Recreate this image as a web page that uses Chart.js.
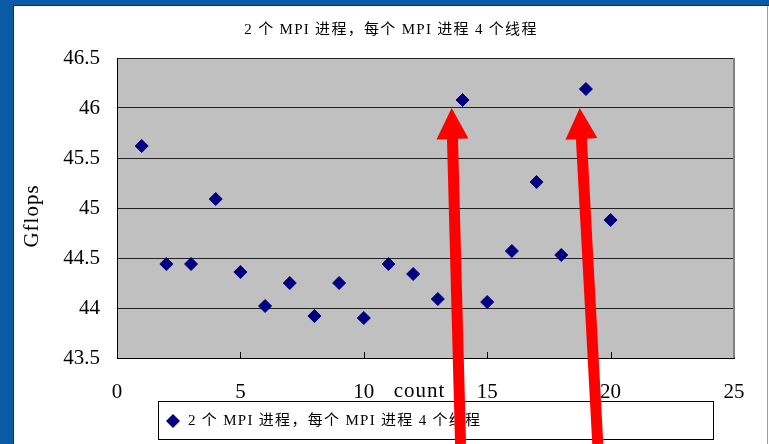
<!DOCTYPE html>
<html>
<head>
<meta charset="utf-8">
<script src="https://cdn.jsdelivr.net/npm/chart.js@4/dist/chart.umd.min.js"></script>
<style>
  html, body { margin: 0; padding: 0; background: #fff; overflow: hidden; }
  #wrap { width: 769px; height: 444px; position: relative; }
  canvas { display: block; }
</style>
</head>
<body>
<div id="wrap"><canvas id="c" width="769" height="444"></canvas></div>
<script>
// Benchmark runs and measured throughput
const runs = [1, 2, 3, 4, 5, 6, 7, 8, 9, 10, 11, 12, 13, 14, 15, 16, 17, 18, 19, 20];
const gflops = [45.62, 44.44, 44.44, 45.09, 44.36, 44.02, 44.25, 43.92, 44.25, 43.90,
                44.44, 44.34, 44.09, 46.08, 44.06, 44.57, 45.26, 44.53, 46.19, 44.88];
const xTicks = [0, 5, 10, 15, 20, 25];
const yTicks = [43.5, 44, 44.5, 45, 45.5, 46, 46.5];
const seriesName = '2 个 MPI 进程，每个 MPI 进程 4 个线程';
const chartTitle = '2 个 MPI 进程，每个 MPI 进程 4 个线程';
const xTitle = 'count';
const yTitle = 'Gflops';
// Red callout arrows for runs 14 and 19: [tailX, tailY, tipX, tipY] in axis units
const callouts = [[13.92, 42.64, 13.56, 46.0], [19.48, 42.64, 18.75, 46.0]];

const serif = "'Liberation Serif', 'Noto Sans CJK SC', serif";
const cjk = "'Liberation Serif', 'Noto Sans CJK SC', sans-serif";
const navy = '#000080';

function drawDiamond(ctx, x, y, r) {
  ctx.beginPath();
  ctx.moveTo(x, y - r); ctx.lineTo(x + r, y); ctx.lineTo(x, y + r); ctx.lineTo(x - r, y);
  ctx.closePath();
  ctx.fillStyle = navy; ctx.fill();
}

function drawArrow(ctx, x0, y0, x1, y1) {
  const dx = x1 - x0, dy = y1 - y0, len = Math.hypot(dx, dy);
  const ux = dx / len, uy = dy / len, px = -uy, py = ux;
  const shaft = 5.5, head = 16, headLen = 31;
  const bx = x1 - ux * headLen, by = y1 - uy * headLen;
  ctx.beginPath();
  ctx.moveTo(x0 + px * shaft, y0 + py * shaft);
  ctx.lineTo(bx + px * shaft, by + py * shaft);
  ctx.lineTo(bx + px * head, by + py * head);
  ctx.lineTo(x1, y1);
  ctx.lineTo(bx - px * head, by - py * head);
  ctx.lineTo(bx - px * shaft, by - py * shaft);
  ctx.lineTo(x0 - px * shaft, y0 - py * shaft);
  ctx.closePath();
  ctx.fillStyle = '#ff0000';
  ctx.fill();
}

const decor = {
  id: 'decor',
  beforeDraw(chart) {
    const { ctx, chartArea: a, width, height } = chart;
    ctx.save();
    // window frame
    ctx.fillStyle = '#0b5aa6';
    ctx.fillRect(0, 0, width, height);
    ctx.fillStyle = '#ffffff';
    ctx.fillRect(14, 6, width - 14, height - 6);
    ctx.fillStyle = '#0a2a4e';
    ctx.fillRect(13, 5, 1, height - 5);
    ctx.fillRect(13, 5, width - 13, 1);
    ctx.fillStyle = '#a0a0a0';
    ctx.fillRect(767, 6, 1, height - 6);
    // plot background
    ctx.fillStyle = '#c0c0c0';
    ctx.fillRect(a.left, a.top, a.right - a.left, a.bottom - a.top);
    ctx.restore();
  },
  beforeDatasetsDraw(chart) {
    const { ctx, chartArea: a, scales } = chart;
    ctx.save();
    // right edge of the plot
    ctx.fillStyle = '#808080';
    ctx.fillRect(a.right - 1, a.top, 2, a.bottom - a.top);
    // inward tick marks on the x axis
    ctx.strokeStyle = '#000';
    ctx.lineWidth = 1;
    xTicks.slice(1, -1).forEach(v => {
      const x = Math.round(scales.x.getPixelForValue(v)) + 0.5;
      ctx.beginPath(); ctx.moveTo(x, a.bottom); ctx.lineTo(x, a.bottom - 6); ctx.stroke();
    });
    ctx.restore();
  },
  afterDraw(chart) {
    const { ctx, chartArea: a, scales } = chart;
    ctx.save();
    // chart title
    ctx.fillStyle = '#000';
    ctx.font = '15px ' + cjk;
    ctx.letterSpacing = '1.3px';
    ctx.textAlign = 'center';
    ctx.textBaseline = 'middle';
    ctx.fillText(chartTitle, 391, 30);
    // x axis title, on the tick label line
    ctx.letterSpacing = '1px';
    ctx.font = '21px ' + serif;
    ctx.fillText(xTitle, (a.left + a.right) / 2 - 6, 391);
    // y axis title
    ctx.save();
    ctx.translate(32, (a.top + a.bottom) / 2 + 8);
    ctx.rotate(-Math.PI / 2);
    ctx.font = '21px ' + serif;
    ctx.fillText(yTitle, 0, 0);
    ctx.restore();
    // legend box
    ctx.letterSpacing = '0px';
    ctx.fillStyle = '#fff';
    ctx.fillRect(159, 402, 554, 38);
    ctx.strokeStyle = '#000';
    ctx.lineWidth = 1;
    ctx.strokeRect(158.5, 401.5, 555, 38);
    drawDiamond(ctx, 173, 421, 7);
    ctx.fillStyle = '#000';
    ctx.font = '15px ' + cjk;
    ctx.letterSpacing = '1.3px';
    ctx.textAlign = 'left';
    ctx.fillText(chart.data.datasets[0].label, 188, 421);
    ctx.letterSpacing = '0px';
    // callout arrows
    callouts.forEach(([tx, ty, hx, hy]) => {
      drawArrow(ctx,
        scales.x.getPixelForValue(tx), scales.y.getPixelForValue(ty),
        scales.x.getPixelForValue(hx), scales.y.getPixelForValue(hy));
    });
    ctx.restore();
  }
};

new Chart(document.getElementById('c'), {
  type: 'scatter',
  data: {
    datasets: [{
      label: seriesName,
      data: runs.map((r, i) => ({ x: r, y: gflops[i] })),
      pointStyle: 'rectRot',
      pointRadius: 6.5,
      backgroundColor: navy,
      borderColor: navy,
      borderWidth: 1
    }]
  },
  options: {
    responsive: false,
    animation: false,
    events: [],
    layout: { padding: { left: 0, top: 58, right: 35, bottom: 0 } },
    plugins: { legend: { display: false }, title: { display: false }, tooltip: { enabled: false } },
    scales: {
      x: {
        type: 'linear',
        min: xTicks[0], max: xTicks[xTicks.length - 1],
        afterFit: s => { s.height = 86; },
        afterBuildTicks: s => { s.ticks = xTicks.map(v => ({ value: v })); },
        grid: { display: false, drawTicks: false },
        border: { display: true, color: '#000', width: 1 },
        ticks: { color: '#000', font: { family: serif, size: 21 }, padding: 22, maxRotation: 0,
                 autoSkip: false, callback: v => String(v) }
      },
      y: {
        min: yTicks[0], max: yTicks[yTicks.length - 1],
        afterFit: s => { s.width = 117; },
        afterBuildTicks: s => { s.ticks = yTicks.map(v => ({ value: v })); },
        grid: { color: '#222', lineWidth: 1, drawTicks: false },
        border: { display: true, color: '#000', width: 1 },
        ticks: { color: '#000', font: { family: serif, size: 21 }, padding: 17,
                 autoSkip: false, callback: v => String(v) }
      }
    }
  },
  plugins: [decor]
});
</script>
</body>
</html>
